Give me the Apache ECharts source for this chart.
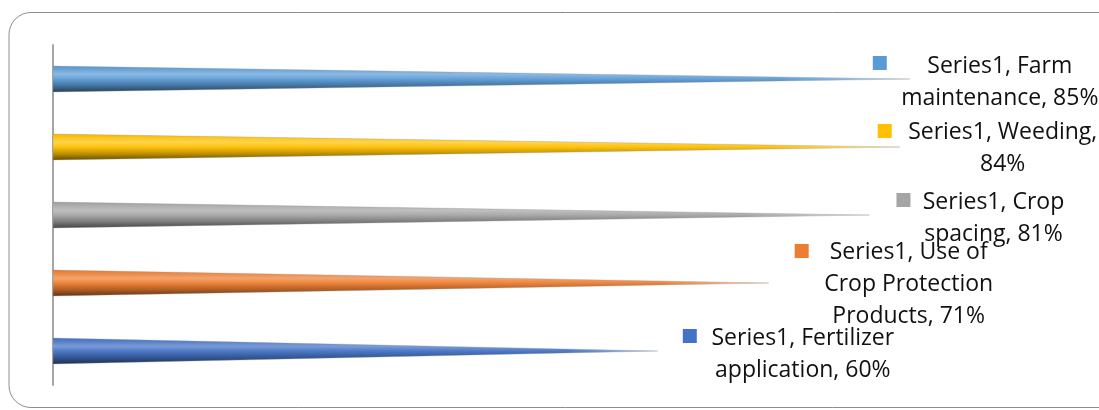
<!DOCTYPE html>
<html>
<head>
<meta charset="utf-8">
<script src="https://cdn.jsdelivr.net/npm/echarts@6/dist/echarts.min.js"></script>
<style>
  html, body { margin: 0; padding: 0; background: #fff; }
  #chart { width: 1099px; height: 410px; }
</style>
</head>
<body>
<div id="chart"></div>
<script>
// data, top to bottom
const seriesName = 'Series1'
const categories = ['Farm maintenance', 'Weeding', 'Crop spacing', 'Use of Crop Protection Products', 'Fertilizer application']
const values = [85, 84, 81, 71, 60]
const colors = ['#5B9BD5', '#FFC000', '#A5A5A5', '#ED7D31', '#4472C4']
// how many words go on each label line before wrapping
const wrapAt = [[2], [2], [2], [3, 5], [2]]

// label placement relative to the cone tip: [square dx, square dy, text dx, first line dy]
const labelLayout = [
    [-30, -16, 90, -13],
    [-15, -16, 103, -15],
    [34, -15, 124, -13],
    [33, -32, 140, -31],
    [32, -15, 145, -13]
]

const shade = (hex, amt) => {
    let n = parseInt(hex.slice(1), 16)
    let r = n >> 16, g = (n >> 8) & 255, b = n & 255
    const f = c => amt >= 0 ? Math.round(c + (255 - c) * amt) : Math.round(c * (1 + amt))
    return 'rgb(' + f(r) + ',' + f(g) + ',' + f(b) + ')'
}

const labelText = i => {
    let words = (seriesName + ', ' + categories[i] + ', ' + values[i] + '%').split(' ')
    let out = ''
    words.forEach((w, k) => {
        out += w
        if (k < words.length - 1) out += wrapAt[i].includes(k + 1) ? '\n' : ' '
    })
    return out
}

const chart = echarts.init(document.getElementById('chart'))

const renderItem = (params, api) => {
    const i = params.dataIndex
    const base = api.coord([0, api.value(1)])
    const tip = api.coord([api.value(0), api.value(1)])
    const half = api.size([0, 1])[1] * 0.19
    const c = colors[i]
    const pts = [[base[0], base[1] - half], [tip[0], tip[1]], [base[0], base[1] + half]]
    const lay = labelLayout[i]
    return {
        type: 'group',
        children: [
            {
                type: 'polygon',
                shape: { points: pts },
                style: {
                    fill: new echarts.graphic.LinearGradient(0, 0, 0, 1, [
                        { offset: 0, color: shade(c, -0.05) },
                        { offset: 0.15, color: shade(c, 0.1) },
                        { offset: 0.32, color: shade(c, 0.3) },
                        { offset: 0.5, color: shade(c, 0.05) },
                        { offset: 0.75, color: shade(c, -0.25) },
                        { offset: 1, color: shade(c, -0.6) }
                    ]),
                    stroke: 'rgba(150,150,150,0.6)',
                    lineWidth: 0.6
                }
            },
            {
                type: 'polygon',
                shape: { points: pts },
                silent: true,
                style: {
                    fill: new echarts.graphic.LinearGradient(0, 0, 1, 0, [
                        { offset: 0, color: 'rgba(255,255,255,0)' },
                        { offset: 0.85, color: 'rgba(255,255,255,0)' },
                        { offset: 1, color: 'rgba(255,255,255,0.5)' }
                    ])
                }
            },
            {
                type: 'rect',
                shape: { x: tip[0] + lay[0] - 7, y: tip[1] + lay[1] - 7, width: 14, height: 14 },
                style: { fill: c }
            },
            {
                type: 'text',
                x: tip[0] + lay[2],
                y: tip[1] + lay[3] - 16,
                style: {
                    text: labelText(i),
                    fill: '#111',
                    fontFamily: 'Open Sans',
                    fontSize: 23,
                    lineHeight: 32,
                    align: 'center',
                    verticalAlign: 'top'
                }
            }
        ]
    }
}

chart.setOption({
    animation: false,
    graphic: [{
        type: 'rect',
        shape: { x: 9, y: 12.5, width: 1130, height: 395, r: 22 },
        style: { fill: 'none', stroke: '#8c8c8c', lineWidth: 1 },
        z: -1
    }],
    grid: { left: 53, top: 45, width: 1008, height: 340 },
    xAxis: {
        type: 'value', min: 0, max: 100, show: false
    },
    yAxis: {
        type: 'category',
        data: categories,
        inverse: true,
        axisLine: { show: true, lineStyle: { color: '#a6a6a6', width: 2 } },
        axisTick: { show: false },
        axisLabel: { show: false },
        splitLine: { show: false }
    },
    series: [{
        name: seriesName,
        type: 'custom',
        clip: false,
        renderItem,
        encode: { x: 0, y: 1 },
        data: values.map((v, i) => [v, i]),
        z: 3
    }]
})
</script>
</body>
</html>
